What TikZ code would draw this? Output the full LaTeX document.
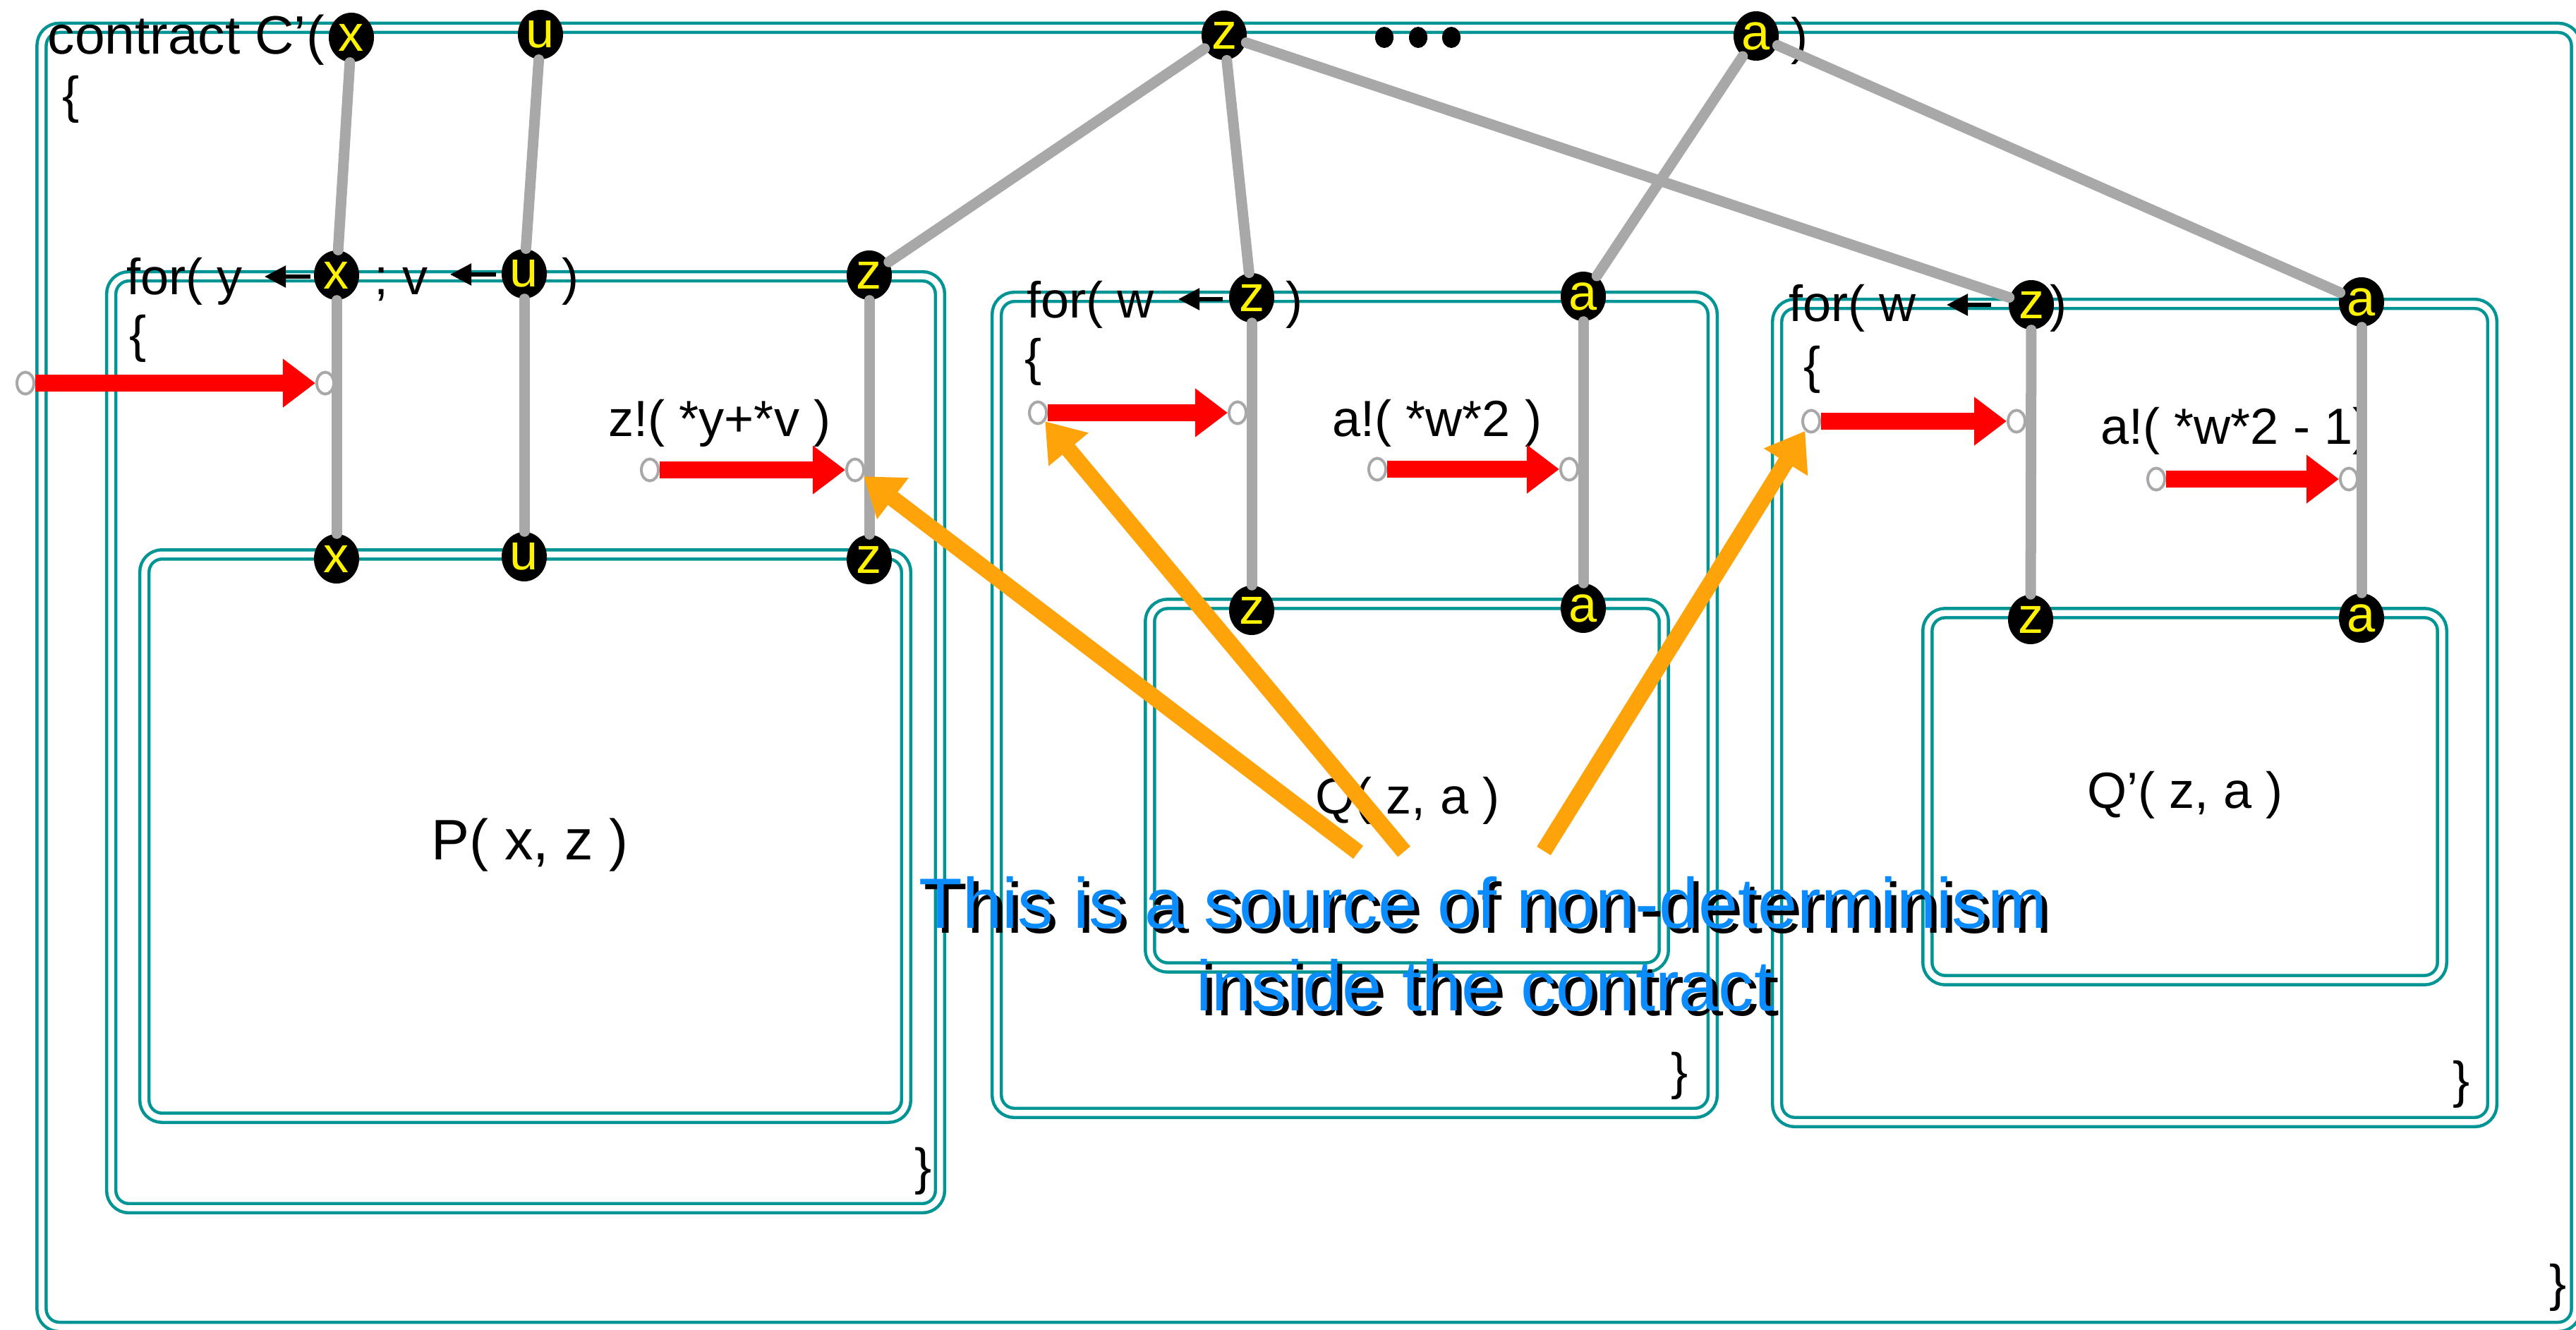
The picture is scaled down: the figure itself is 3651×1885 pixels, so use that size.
\documentclass[tikz,border=0pt]{standalone}
\usepackage{fontspec}
\setmainfont{Liberation Sans}
\usetikzlibrary{shapes.geometric,arrows.meta,calc}
\definecolor{tealbox}{RGB}{0,148,148}
\definecolor{wiregray}{RGB}{168,168,168}
\definecolor{callblue}{RGB}{10,140,255}
\definecolor{arrred}{RGB}{255,0,0}
\definecolor{arrorange}{RGB}{255,163,10}
\newcommand\mainsize{\fontsize{20.5pt}{24.6pt}\selectfont}
\newcommand\contsize{\fontsize{21.8pt}{26pt}\selectfont}
\newcommand\psize{\fontsize{23pt}{27pt}\selectfont}
\newcommand\bigsize{\fontsize{28.7pt}{33.3pt}\selectfont}
\begin{document}
\begin{tikzpicture}[x=0.01cm,y=-0.01cm,
  box/.style={rectangle, draw=tealbox, double=white, line width=0.045cm, double distance=0.085cm, rounded corners=0.25cm, inner sep=0pt},
  port/.style={ellipse, fill=black, minimum width=0.64cm, minimum height=0.70cm, inner sep=0pt, text=yellow, font=\mainsize},
  txt/.style={inner sep=0pt, anchor=base west, font=\mainsize},
  txtc/.style={inner sep=0pt, anchor=base, font=\mainsize},
  wire/.style={draw=wiregray, line width=0.15cm, line cap=round},
  hole/.style={ellipse, draw=wiregray, fill=white, line width=0.04cm, minimum width=0.24cm, minimum height=0.31cm, inner sep=0pt},
  redarrow/.style={draw=arrred, line width=0.24cm, -{Triangle[length=0.46cm, width=0.66cm]}},
  orangearrow/.style={draw=arrorange, line width=0.23cm, -{Triangle[length=0.52cm, width=0.70cm]}},
  larrow/.style={draw=black, line width=0.055cm, -{Triangle[length=0.30cm, width=0.30cm]}},
  dotnode/.style={ellipse, fill=black, minimum width=0.26cm, minimum height=0.30cm, inner sep=0pt},
  calltext/.style={inner sep=0pt, anchor=base, font=\bigsize},
]
\useasboundingbox (0,0) rectangle (3651,1885);
\clip (0,0) rectangle (3651,1885);

% boxes
\node[box, minimum width=35.90cm, minimum height=18.40cm] (outer) at (1855,960) {};
\node[box, minimum width=11.74cm, minimum height=13.20cm] (F1) at (745,1052) {};
\node[box, minimum width=10.79cm, minimum height=7.98cm] (P) at (744.5,1185) {};
\node[box, minimum width=10.14cm, minimum height=11.56cm] (F2) at (1920,999) {};
\node[box, minimum width=7.28cm, minimum height=5.15cm] (Q) at (1994,1113.5) {};
\node[box, minimum width=10.13cm, minimum height=11.59cm] (F3) at (3025.5,1010.5) {};
\node[box, minimum width=7.29cm, minimum height=5.20cm] (Q2) at (3096.5,1129) {};

% texts
\node[txt, font=\contsize] (ct) at (67,77) {contract C’(};
\node[txt] (cb) at (88,160) {\{};
\node[txt] (cp) at (2538,77) {)};
\node[txt] (cend) at (3613,1843) {\}};

\node[txt] (f1a) at (179,417) {for( y};
\node[txt] (f1c) at (530,417) {; v};
\node[txt] (f1e) at (796,417) {)};
\node[txt] (f1f) at (183,498) {\{};
\node[txt] (f1g) at (1296,1678) {\}};
\node[txt] (zs) at (862,618) {z!( *y+*v )};
\node[txtc, font=\psize] (pl) at (751,1218) {P( x, z )};

\node[txt] (f2a) at (1455,450) {for( w};
\node[txt] (f2c) at (1822,450) {)};
\node[txt] (f2f) at (1452,531) {\{};
\node[txt] (f2g) at (2368,1543) {\}};
\node[txt] (as1) at (1888,618) {a!( *w*2 )};
\node[txtc] (ql) at (1995,1153) {Q( z, a )};

\node[txt] (f3a) at (2535,455) {for( w};
\node[txt] (f3c) at (2905,455) {)};
\node[txt] (f3f) at (2556,542) {\{};
\node[txt] (f3g) at (3476,1555) {\}};
\node[txt] (as2) at (2977,629) {a!( *w*2 - 1)};
\node[txtc] (q2l) at (3097,1145) {Q’( z, a )};

% left arrows inside the for headers
\coordinate (la1s) at (440,392); \coordinate (la1e) at (375,392);
\coordinate (la2s) at (703,389); \coordinate (la2e) at (638,389);
\coordinate (la3s) at (1733,424); \coordinate (la3e) at (1670,424);
\coordinate (la4s) at (2822,432); \coordinate (la4e) at (2759,432);
\draw[larrow] (la1s) -- (la1e);
\draw[larrow] (la2s) -- (la2e);
\draw[larrow] (la3s) -- (la3e);
\draw[larrow] (la4s) -- (la4e);

% dots
\node[dotnode] (d1) at (1962,53) {};
\node[dotnode] (d2) at (2010,53) {};
\node[dotnode] (d3) at (2057,53) {};

% ports
\node[port] (tx) at (498,53) {x};
\node[port] (tu) at (766,49) {u};
\node[port] (tz) at (1735,50) {z};
\node[port] (ta) at (2489,51) {a};

\node[port] (f1x) at (477,390) {x};
\node[port] (f1u) at (743,388) {u};
\node[port] (f1z) at (1232,390) {z};
\node[port] (px) at (477,792) {x};
\node[port] (pu) at (743,789) {u};
\node[port] (pz) at (1232,793) {z};

\node[port] (f2z) at (1774,422) {z};
\node[port] (f2a) at (2244,420) {a};
\node[port] (qz) at (1774,865) {z};
\node[port] (qa) at (2244,862) {a};

\node[port] (f3z) at (2879,432) {z};
\node[port] (f3a) at (3347,428) {a};
\node[port] (q2z) at (2878,878) {z};
\node[port] (q2a) at (3347,876) {a};

% wires
\draw[wire] (tx) -- (f1x);
\draw[wire] (tu) -- (f1u);
\draw[wire] (tz) -- (f1z);
\draw[wire] (tz) -- (f2z);
\draw[wire] (tz) -- (f3z);
\draw[wire] (ta) -- (f2a);
\draw[wire] (ta) -- (f3a);
\draw[wire] (f1x) -- (px);
\draw[wire] (f1u) -- (pu);
\draw[wire] (f1z) -- (pz);
\draw[wire] (f2z) -- (qz);
\draw[wire] (f2a) -- (qa);
\draw[wire] (f3z) -- (q2z);
\draw[wire] (f3a) -- (q2a);

% red arrows
\node[hole] (r1a) at (36,543) {};
\node[hole] (r1b) at (461,543) {};
\node[hole] (r2a) at (921,666) {};
\node[hole] (r2b) at (1212,666) {};
\node[hole] (r3a) at (1471,585) {};
\node[hole] (r3b) at (1754,585) {};
\node[hole] (r4a) at (1952,665) {};
\node[hole] (r4b) at (2224,665) {};
\node[hole] (r5a) at (2567,597) {};
\node[hole] (r5b) at (2858,597) {};
\node[hole] (r6a) at (3056,679) {};
\node[hole] (r6b) at (3329,679) {};
\draw[redarrow] (r1a) -- (r1b);
\draw[redarrow] (r2a) -- (r2b);
\draw[redarrow] (r3a) -- (r3b);
\draw[redarrow] (r4a) -- (r4b);
\draw[redarrow] (r5a) -- (r5b);
\draw[redarrow] (r6a) -- (r6b);

% orange arrows
\coordinate (o1) at (1925,1208);
\coordinate (o2) at (1990,1207);
\coordinate (o3) at (2188,1206);
\draw[orangearrow] (o1) -- (r2b);
\draw[orangearrow] (o2) -- (r3a);
\draw[orangearrow] (o3) -- (r5a);

% callout
\node[calltext, text=black] (c1s) at (2109,1322) {This is a source of non-determinism};
\node[calltext, text=black] (c2s) at (2112,1439) {inside the contract};
\node[calltext, text=callblue] (c1) at (2102,1315) {This is a source of non-determinism};
\node[calltext, text=callblue] (c2) at (2105,1432) {inside the contract};
\end{tikzpicture}
\end{document}
